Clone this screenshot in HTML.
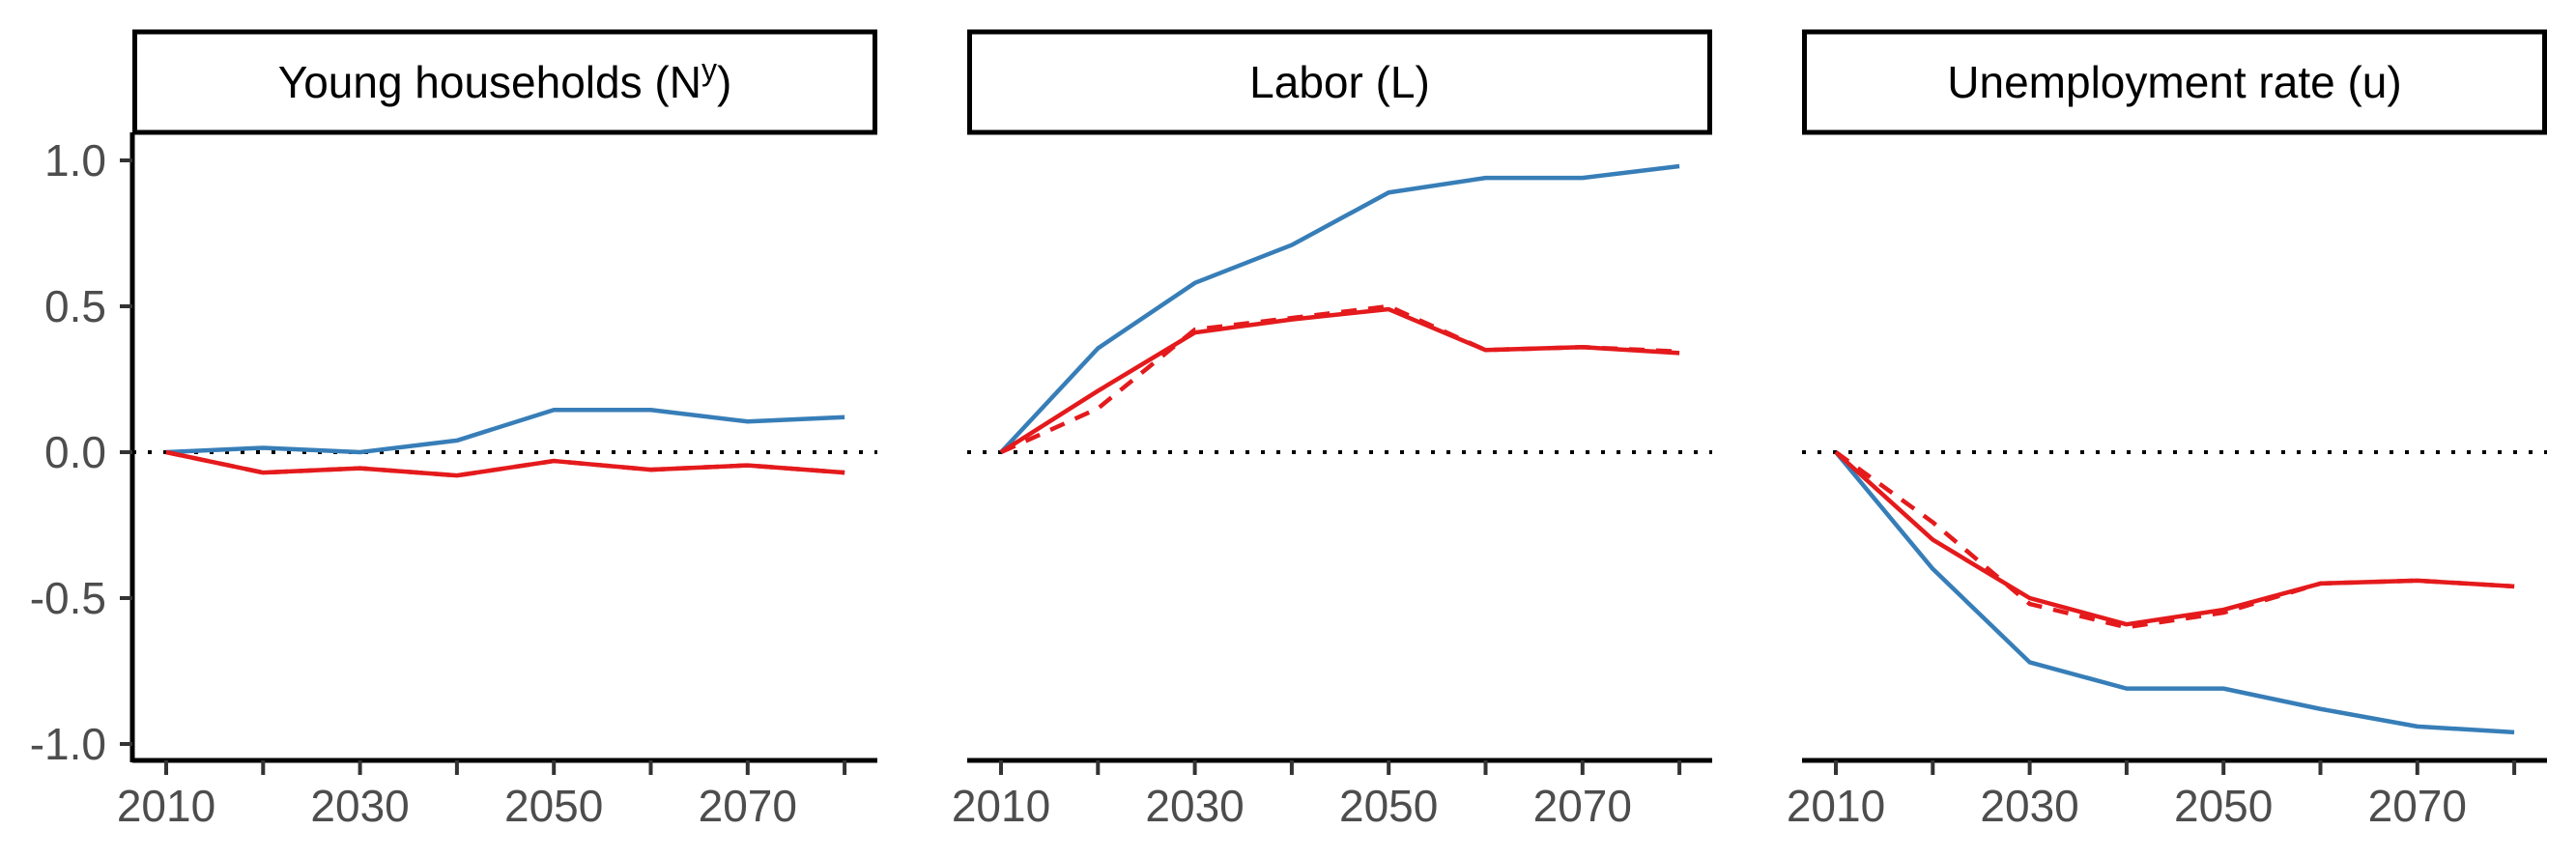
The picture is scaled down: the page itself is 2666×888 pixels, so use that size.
<!DOCTYPE html>
<html><head><meta charset="utf-8"><style>
html,body{margin:0;padding:0;background:#fff;}
svg{display:block;font-family:"Liberation Sans",sans-serif;}
</style></head><body>
<svg id="chart" width="2666" height="888" viewBox="0 0 2666 888" xmlns="http://www.w3.org/2000/svg"></svg>
<script>
const years = [2010,2020,2030,2040,2050,2060,2070,2080];
const panelTitles = ["Young households", "Labor (L)", "Unemployment rate (u)"];
const youngBlue = [0,0.015,0,0.04,0.145,0.145,0.105,0.12];
const youngRed = [0,-0.07,-0.055,-0.08,-0.03,-0.06,-0.045,-0.07];
const youngRedDash = [0,-0.07,-0.055,-0.08,-0.03,-0.06,-0.045,-0.07];
const laborBlue = [0,0.356,0.58,0.71,0.89,0.94,0.94,0.98];
const laborRed = [0,0.21,0.41,0.455,0.49,0.35,0.36,0.34];
const laborRedDash = [0,0.15,0.42,0.46,0.50,0.35,0.36,0.345];
const unempBlue = [0,-0.40,-0.72,-0.81,-0.81,-0.88,-0.94,-0.96];
const unempRed = [0,-0.30,-0.50,-0.59,-0.54,-0.45,-0.44,-0.46];
const unempRedDash = [0,-0.24,-0.52,-0.60,-0.55,-0.45,-0.44,-0.46];
const yTicks = [1.0,0.5,0.0,-0.5,-1.0];
const yTickLabels = ["1.0","0.5","0.0","-0.5","-1.0"];
const xTickLabels = [2010,2030,2050,2070];

const NS="http://www.w3.org/2000/svg";
const svg=document.getElementById('chart');
function mk(tag,attrs,parent){const e=document.createElementNS(NS,tag);for(const k in attrs)e.setAttribute(k,attrs[k]);(parent||svg).appendChild(e);return e;}
const panelW=771, panelStep=864, left0=137;
const yOf=v=>468-v*302;
const series=[[youngBlue,youngRed,youngRedDash],[laborBlue,laborRed,laborRedDash],[unempBlue,unempRed,unempRedDash]];
const names=["young-households","labor","unemployment-rate"];
for(let p=0;p<3;p++){
  const L=left0+p*panelStep;
  const xOf=y=>L+35+(y-2010)*10.03;
  const g=mk('g',{});
  
  
  const strip=mk('rect',{x:L+2.5,y:33,width:panelW-5,height:104,fill:'#fff',stroke:'#000','stroke-width':5},g);
  
  
  const t=mk('text',{x:L+panelW/2,y:101,'text-anchor':'middle','font-size':46,fill:'#000'},g);
  
  
  if(p===0){t.textContent="Young households (N";const ts=mk('tspan',{dy:-18,'font-size':32},t);ts.textContent="y";const ts2=mk('tspan',{dy:18},t);ts2.textContent=")";}
  else t.textContent=panelTitles[p];
  const z=mk('line',{x1:L,x2:L+panelW,y1:yOf(0),y2:yOf(0),stroke:'#000','stroke-width':4,'stroke-dasharray':'4 12'},g);
  
  
  const xa=mk('line',{x1:L,x2:L+panelW,y1:787,y2:787,stroke:'#000','stroke-width':5},g);
  
  
  years.forEach(yr=>{mk('line',{x1:xOf(yr),x2:xOf(yr),y1:787,y2:802,stroke:'#333','stroke-width':4},g);});
  xTickLabels.forEach(yr=>{const tx=mk('text',{x:xOf(yr),y:850,'text-anchor':'middle','font-size':46,fill:'#4d4d4d'},g);tx.textContent=yr;
    
    });
  if(p===0){
    const ya=mk('line',{x1:L,x2:L,y1:137,y2:789,stroke:'#000','stroke-width':5},g);
    
    
    yTicks.forEach((v,i)=>{mk('line',{x1:L-13,x2:L,y1:yOf(v),y2:yOf(v),stroke:'#333','stroke-width':4},g);
      const ty=mk('text',{x:L-27,y:yOf(v)+16,'text-anchor':'end','font-size':46,fill:'#4d4d4d'},g);ty.textContent=yTickLabels[i];
      
      });
  }
  const [b,r,rd]=series[p];
  const pts=a=>a.map((v,i)=>xOf(years[i])+','+yOf(v)).join(' ');
  const l1=mk('polyline',{points:pts(b),fill:'none',stroke:'#377EB8','stroke-width':4.5,'stroke-linejoin':'round'},g);
  
  
  const l3=mk('polyline',{points:pts(rd),fill:'none',stroke:'#E41A1C','stroke-width':4.5,'stroke-dasharray':'16 12'},g);
  
  
  const l2=mk('polyline',{points:pts(r),fill:'none',stroke:'#E41A1C','stroke-width':4.5,'stroke-linejoin':'round'},g);
  
  
}
</script>
</body></html>
